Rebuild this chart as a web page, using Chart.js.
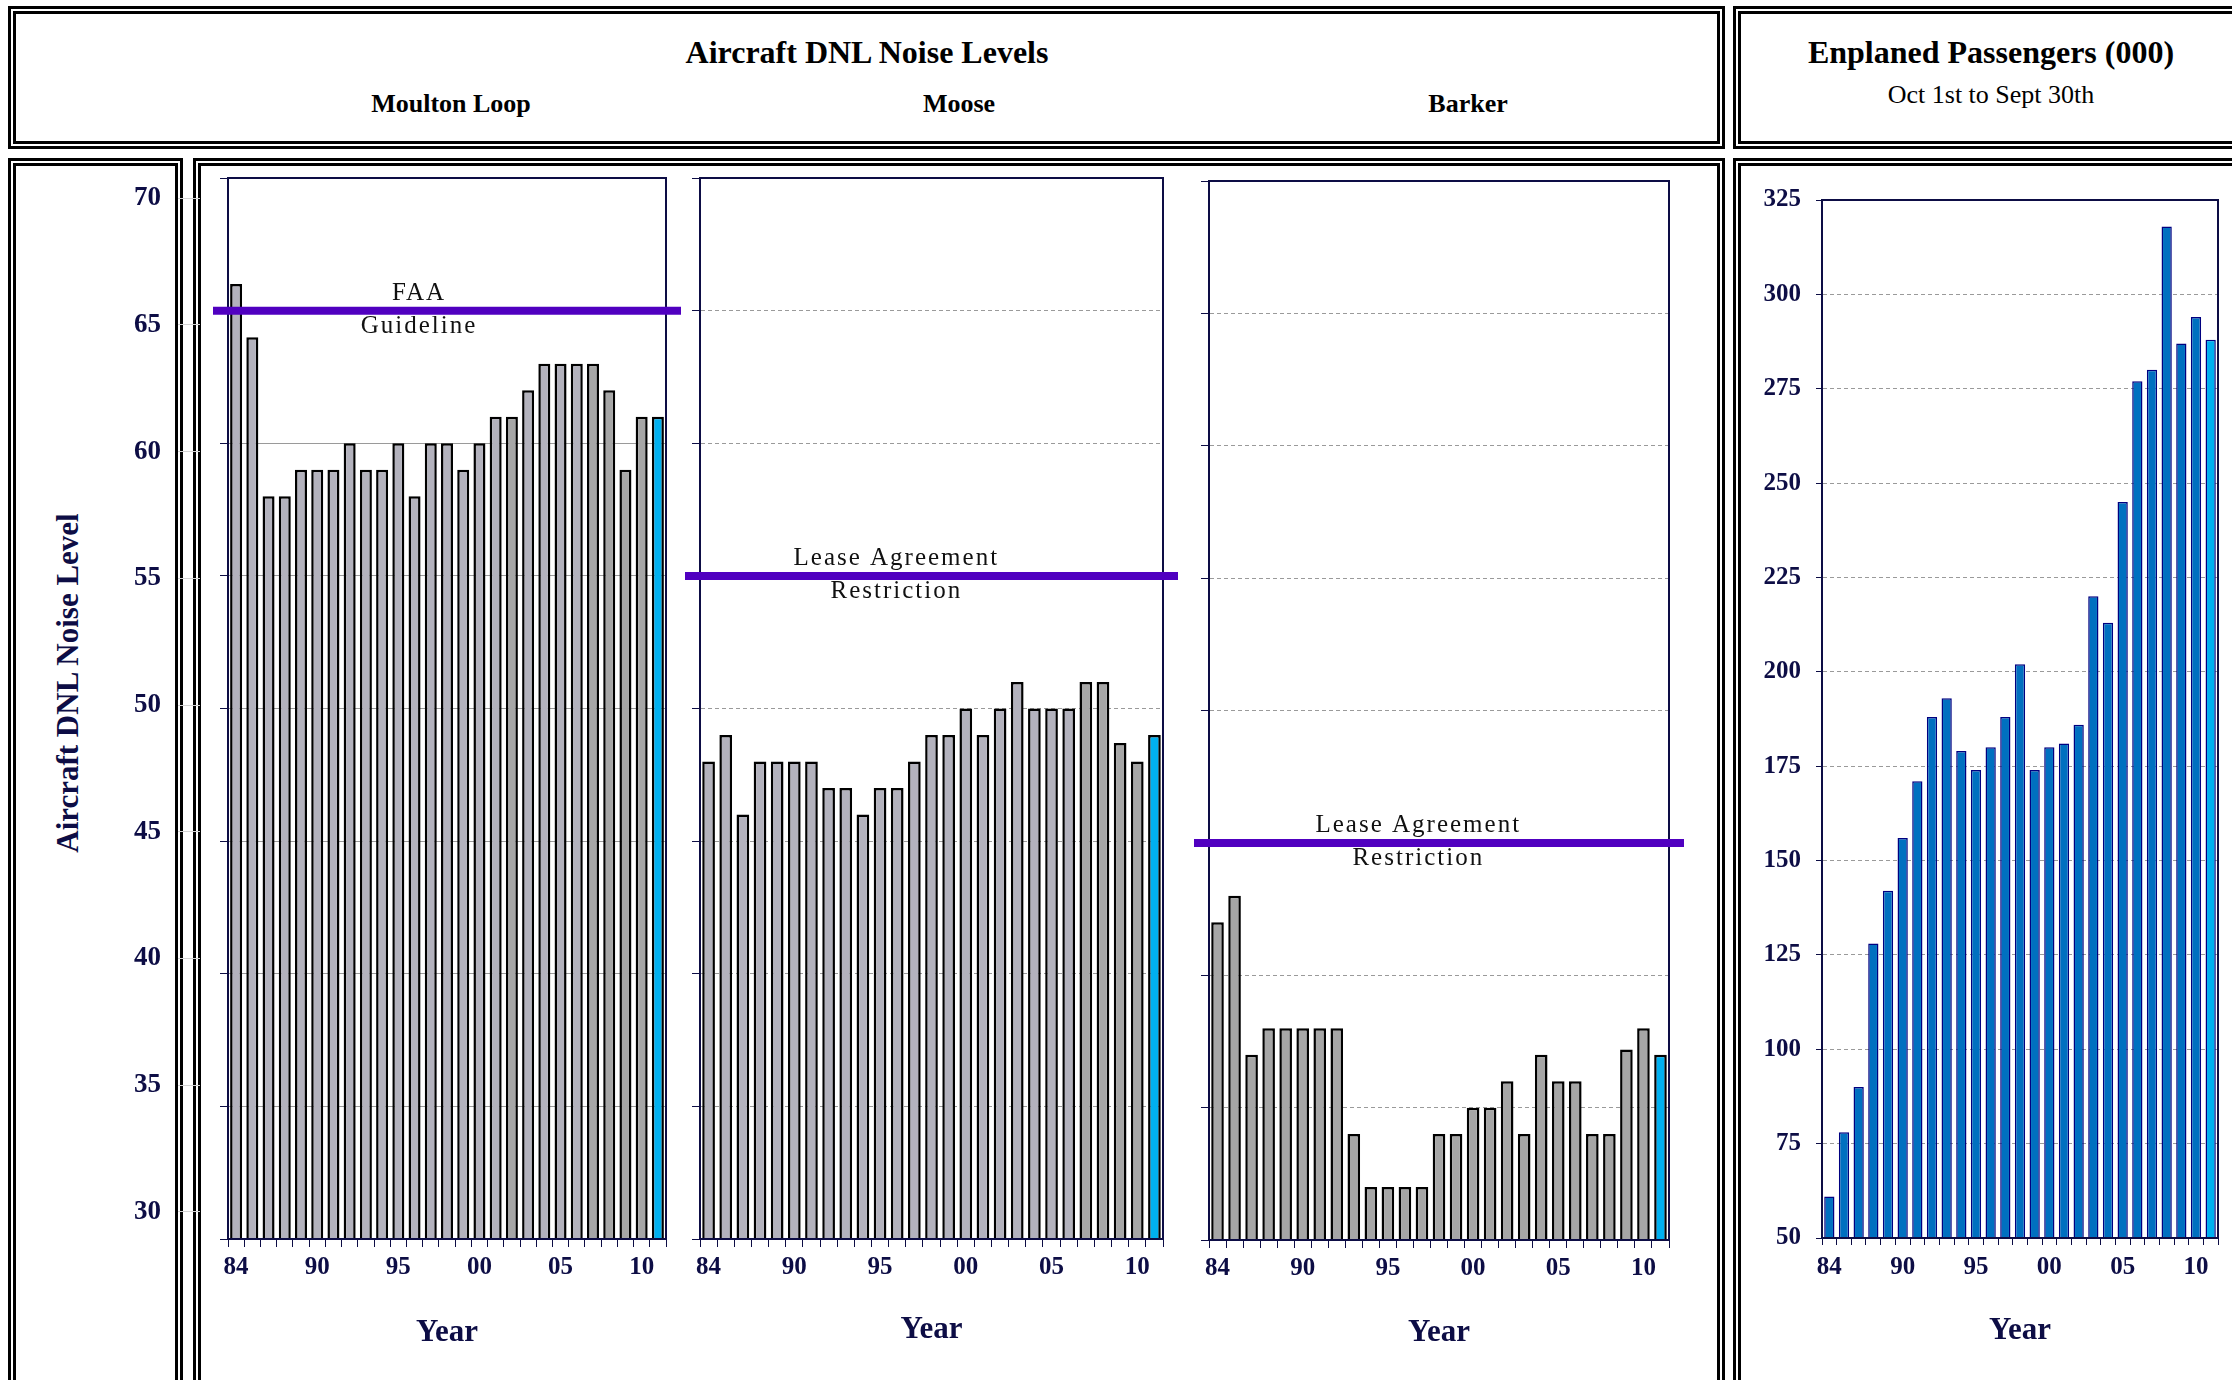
<!DOCTYPE html>
<html>
<head>
<meta charset="utf-8">
<script src="https://cdn.jsdelivr.net/npm/chart.js@4/dist/chart.umd.min.js"></script>
<style>
  body { margin: 0; width: 2232px; height: 1380px; overflow: hidden; background: #fff; position: relative;
         font-family: 'Liberation Serif', 'Times New Roman', serif; }
  .box { position: absolute; border: 8px double #000; box-sizing: border-box; }
  .t { position: absolute; transform: translate(-50%, -50%); white-space: nowrap; line-height: 1; color: #000; }
  canvas { position: absolute; }
</style>
</head>
<body>
<div class="box" style="left:8px;top:6px;width:1717px;height:143px"></div>
<div class="box" style="left:1733px;top:6px;width:540px;height:143px"></div>
<div class="box" style="left:8px;top:158px;width:175px;height:1240px"></div>
<div class="box" style="left:193px;top:158px;width:1532px;height:1240px"></div>
<div class="box" style="left:1733px;top:158px;width:540px;height:1240px"></div>

<div class="t" style="left:867px;top:52px;font-size:32px;font-weight:bold">Aircraft DNL Noise Levels</div>
<div class="t" style="left:451px;top:104px;font-size:26px;font-weight:bold">Moulton Loop</div>
<div class="t" style="left:959px;top:104px;font-size:26px;font-weight:bold">Moose</div>
<div class="t" style="left:1468px;top:104px;font-size:26px;font-weight:bold">Barker</div>
<div class="t" style="left:1991px;top:52px;font-size:32px;font-weight:bold">Enplaned Passengers (000)</div>
<div class="t" style="left:1991px;top:95px;font-size:26px">Oct 1st to Sept 30th</div>
<div class="t" style="left:67px;top:683px;font-size:31px;font-weight:bold;color:#0D0D45;transform:translate(-50%,-50%) rotate(-90deg)">Aircraft DNL Noise Level</div>

<canvas id="axisL" width="190" height="1080" style="left:20px;top:165px"></canvas>
<canvas id="moulton" width="478" height="1188" style="left:208px;top:168px"></canvas>
<canvas id="moose" width="503" height="1185" style="left:680px;top:168px"></canvas>
<canvas id="barker" width="500" height="1185" style="left:1189px;top:171px"></canvas>
<canvas id="pax" width="492" height="1184" style="left:1740px;top:170px"></canvas>

<script>
// fiscal years, two-digit
var years = ["84", "86", "87", "88", "89", "90", "91", "92", "93", "94", "95", "96", "97", "98",
  "99", "00", "01", "02", "03", "04", "05", "06", "07", "08", "09", "10", "11"];
var yearTicks = ["84", "90", "95", "00", "05", "10"];

// DNL noise levels
var moultonLoop = [66, 64, 58, 58, 59, 59, 59, 60, 59, 59, 60, 58, 60, 60, 59, 60, 61, 61, 62, 63, 63, 63, 63, 62, 59, 61, 61];
var moose = [48, 49, 46, 48, 48, 48, 48, 47, 47, 46, 47, 47, 48, 49, 49, 50, 49, 50, 51, 50, 50, 50, 51, 51, 48.7, 48, 49];
var barker = [42, 43, 37, 38, 38, 38, 38, 38, 34, 32, 32, 32, 32, 34, 34, 35, 35, 36, 34, 37, 36, 36, 34, 34, 37.2, 38, 37];

// guideline / restriction levels
var faaGuideline = 65;
var mooseRestriction = 55;
var barkerRestriction = 45;

// enplaned passengers (000)
var passengers = [61, 78, 90, 128, 142, 156, 171, 188, 193, 179, 174, 180, 188, 202, 174, 180, 181, 186, 220, 213, 245, 277, 280, 318, 287, 294, 288];

var noiseTicks = [30, 35, 40, 45, 50, 55, 60, 65, 70];
var paxTicks = [50, 75, 100, 125, 150, 175, 200, 225, 250, 275, 300, 325];

var navy = "#0D0D45";
var serif = "'Liberation Serif', 'Times New Roman', serif";
Chart.defaults.font.family = serif;
Chart.defaults.animation = false;

var framePlugin = {
  id: "frame",
  afterDatasetsDraw: function (chart) {
    var a = chart.chartArea, ctx = chart.ctx;
    ctx.save();
    ctx.strokeStyle = navy;
    ctx.lineWidth = 2;
    ctx.strokeRect(a.left, a.top, a.right - a.left, a.bottom - a.top);
    ctx.restore();
  }
};

function refLine(value, lines, frac) {
  return {
    id: "refLine",
    afterDraw: function (chart) {
      var a = chart.chartArea, ctx = chart.ctx;
      var y = chart.scales.y.getPixelForValue(value);
      ctx.save();
      ctx.strokeStyle = "#5000C0";
      ctx.lineWidth = 8;
      ctx.beginPath();
      ctx.moveTo(a.left - 15, y);
      ctx.lineTo(a.right + 15, y);
      ctx.stroke();
      ctx.fillStyle = "#111";
      ctx.font = "25px " + serif;
      ctx.letterSpacing = "2px";
      ctx.textAlign = "center";
      ctx.textBaseline = "alphabetic";
      var x = a.left + frac * (a.right - a.left);
      ctx.fillText(lines[0], x, y - 10.5);
      ctx.fillText(lines[1], x, y + 22.5);
      ctx.restore();
    }
  };
}

function barColors(n, dark, allDark) {
  var c = [];
  for (var i = 0; i < n; i++) {
    if (i == n - 1) c.push("#00B0F0");
    else if (allDark || dark.indexOf(i) >= 0) c.push("#A6A6A6");
    else c.push("#B3B2BD");
  }
  return c;
}

function yearTick(v) {
  var l = this.getLabelForValue(v);
  return yearTicks.indexOf(l) >= 0 ? l : "";
}

function noiseChart(id, values, line, axisH, dark, allDark, dashed) {
  return new Chart(document.getElementById(id), {
    type: "bar",
    data: {
      labels: years,
      datasets: [{
        data: values,
        backgroundColor: barColors(values.length, dark, allDark),
        borderColor: "#000",
        borderWidth: 2.5,
        barPercentage: 0.74,
        categoryPercentage: 1
      }]
    },
    options: {
      responsive: false,
      layout: { padding: { top: 10, right: 20, left: 0, bottom: 0 } },
      plugins: { legend: { display: false }, tooltip: { enabled: false } },
      scales: {
        x: {
          ticks: { autoSkip: false, maxRotation: 0, color: navy, padding: 6,
                   font: { size: 25, weight: "bold" }, callback: yearTick },
          grid: { drawOnChartArea: false, tickLength: 8, tickColor: navy },
          border: { color: navy, width: 2 },
          title: { display: true, text: "Year", color: navy, font: { size: 31, weight: "bold" },
                   padding: { top: 4, bottom: 4 } },
          afterFit: function (s) { s.height = axisH; }
        },
        y: {
          min: noiseTicks[0], max: noiseTicks[noiseTicks.length - 1],
          ticks: { display: false, stepSize: 5 },
          grid: { color: "#9a9a9a", lineWidth: 1, tickLength: 8, tickColor: navy },
          border: { color: navy, width: 2, dash: dashed ? [4, 3] : [] },
          afterFit: function (s) { s.width = 20; }
        }
      }
    },
    plugins: [framePlugin, line]
  });
}

noiseChart("moulton", moultonLoop, refLine(faaGuideline, ["FAA", "Guideline"], 0.436), 117, [17, 22, 23, 24, 25], false, false);
noiseChart("moose", moose, refLine(mooseRestriction, ["Lease Agreement", "Restriction"], 0.424), 114, [22, 23, 24, 25], false, true);
noiseChart("barker", barker, refLine(barkerRestriction, ["Lease Agreement", "Restriction"], 0.455), 116, [], true, true);

// shared noise level axis on the left
new Chart(document.getElementById("axisL"), {
  type: "bar",
  data: { labels: years, datasets: [] },
  options: {
    responsive: false,
    layout: { padding: { top: 30, bottom: 25, left: 26, right: 0 } },
    plugins: { legend: { display: false }, tooltip: { enabled: false } },
    scales: {
      x: { display: false },
      y: {
        min: noiseTicks[0], max: noiseTicks[noiseTicks.length - 1],
        ticks: { stepSize: 5, color: navy, padding: 17, font: { size: 27, weight: "bold" } },
        grid: { drawOnChartArea: false, tickLength: 22, tickColor: "#d2d2d2" },
        border: { display: false },
        afterFit: function (s) { s.width = 154; }
      }
    }
  }
});

var paxColors = passengers.map(function (v, i) { return i == passengers.length - 1 ? "#00B0F0" : "#0070C0"; });

new Chart(document.getElementById("pax"), {
  type: "bar",
  data: {
    labels: years,
    datasets: [{
      data: passengers,
      backgroundColor: paxColors,
      borderColor: "#000080",
      borderWidth: 1.5,
      barPercentage: 0.7,
      categoryPercentage: 1
    }]
  },
  options: {
    responsive: false,
    layout: { padding: { top: 25, right: 14, left: 0, bottom: 0 } },
    plugins: { legend: { display: false }, tooltip: { enabled: false } },
    scales: {
      x: {
        ticks: { autoSkip: false, maxRotation: 0, color: navy, padding: 8,
                 font: { size: 25, weight: "bold" }, callback: yearTick },
        grid: { drawOnChartArea: false, tickLength: 7, tickColor: navy },
        border: { color: navy, width: 2 },
        title: { display: true, text: "Year", color: navy, font: { size: 31, weight: "bold" },
                 padding: { top: 4, bottom: 4 } },
        afterFit: function (s) { s.height = 116; }
      },
      y: {
        min: paxTicks[0], max: paxTicks[paxTicks.length - 1],
        ticks: { stepSize: 25, color: navy, padding: 15, font: { size: 25, weight: "bold" } },
        grid: { color: "#9a9a9a", lineWidth: 1, tickLength: 6, tickColor: navy },
        border: { color: navy, width: 2, dash: [4, 3] },
        afterFit: function (s) { s.width = 82; }
      }
    }
  },
  plugins: [framePlugin]
});
</script>
</body>
</html>
